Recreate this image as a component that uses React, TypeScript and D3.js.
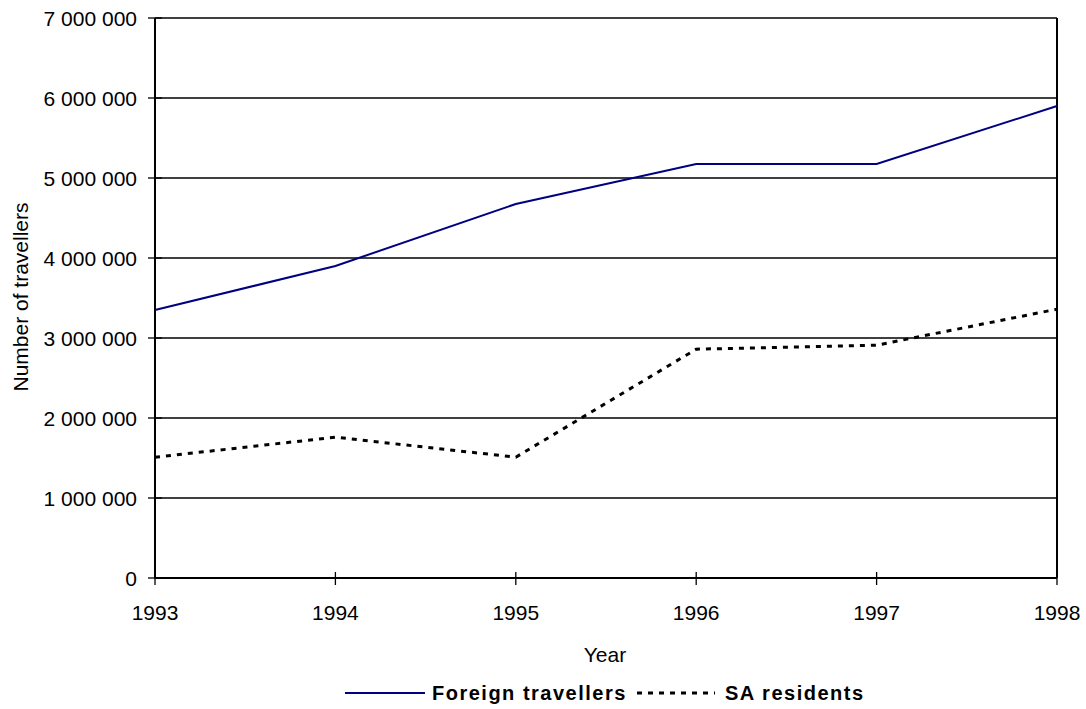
import React from "react";
import * as d3 from "d3";

const years = [1993, 1994, 1995, 1996, 1997, 1998];
const foreign = [3350000, 3900000, 4675000, 5175000, 5175000, 5900000];
const saResidents = [1510000, 1760000, 1510000, 2860000, 2910000, 3360000];
const yTicks = [0, 1000000, 2000000, 3000000, 4000000, 5000000, 6000000, 7000000];

const W = 1086, H = 709;
const L = 155, R = 1057, T = 18, B = 578;

const fmt = (v: number) => (v === 0 ? "0" : d3.format(",")(v).replace(/,/g, " "));

export default function App() {
  const x = d3.scaleLinear().domain([1993, 1998]).range([L, R]);
  const y = d3.scaleLinear().domain([0, 7000000]).range([B, T]);
  const line = d3.line<number>().x((_, i) => x(years[i])).y((d) => y(d));
  const font = "Arial, 'Liberation Sans', sans-serif";
  return (
    <svg width={W} height={H} style={{ position: "absolute", left: 0, top: 0 }} fontFamily={font}>
      <rect x={0} y={0} width={W} height={H} fill="#fff" />
      {yTicks.map((t) => (
        <g key={t}>
          <line x1={L} x2={R} y1={y(t)} y2={y(t)} stroke="#000" strokeWidth={1.3} />
          <line x1={L - 7} x2={L + 7} y1={y(t)} y2={y(t)} stroke="#000" strokeWidth={1.3} />
          <text x={137} y={y(t)} dy="0.36em" textAnchor="end" fontSize={21}>
            {fmt(t)}
          </text>
        </g>
      ))}
      <line x1={R} x2={R} y1={T} y2={B} stroke="#000" strokeWidth={2} />
      <line x1={L} x2={L} y1={T} y2={B} stroke="#000" strokeWidth={2} />
      <line x1={L} x2={R} y1={B} y2={B} stroke="#000" strokeWidth={2} />
      {years.map((yr) => (
        <g key={yr}>
          <line x1={x(yr)} x2={x(yr)} y1={B - 6} y2={B + 7} stroke="#000" strokeWidth={1.3} />
          <text x={x(yr)} y={620} textAnchor="middle" fontSize={21}>
            {yr}
          </text>
        </g>
      ))}
      <path d={line(foreign) || ""} fill="none" stroke="#000080" strokeWidth={2} />
      <path
        d={line(saResidents) || ""}
        fill="none"
        stroke="#000"
        strokeWidth={3}
        strokeDasharray="5 6"
      />
      <text x={605} y={662} textAnchor="middle" fontSize={21}>
        Year
      </text>
      <text
        transform={`translate(28,${(T + B) / 2 - 1}) rotate(-90)`}
        textAnchor="middle"
        fontSize={21}
      >
        Number of travellers
      </text>
      <line x1={345} x2={425} y1={693} y2={693} stroke="#000080" strokeWidth={2} />
      <text x={432} y={700} fontSize={20} fontWeight="bold" letterSpacing={1.5}>
        Foreign travellers
      </text>
      <line x1={637} x2={715} y1={693} y2={693} stroke="#000" strokeWidth={3} strokeDasharray="5 6" />
      <text x={725} y={700} fontSize={20} fontWeight="bold" letterSpacing={1.5}>
        SA residents
      </text>
    </svg>
  );
}
